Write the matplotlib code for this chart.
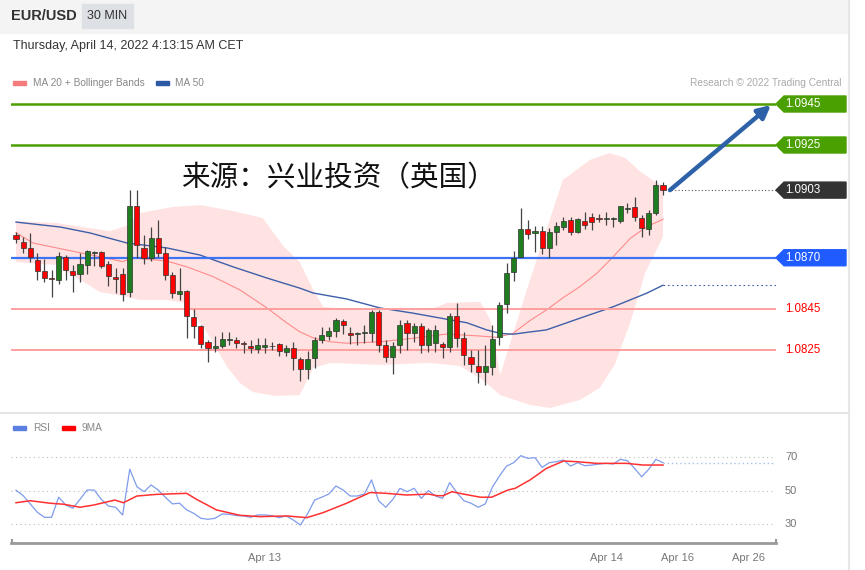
import matplotlib.pyplot as plt
from matplotlib.patches import Polygon, Rectangle
import numpy as np

plt.rcParams['font.family'] = ['Liberation Sans', 'DejaVu Sans']

# ---- candles (30 min EUR/USD) ----
opens = [1.08811, 1.08778, 1.08749, 1.08689, 1.08635, 1.08601, 1.08593, 1.08705, 1.08635, 1.08619,
         1.08665, 1.08725, 1.08727, 1.08670, 1.08606, 1.08621, 1.08531, 1.08951, 1.08749, 1.08700,
         1.08798, 1.08723, 1.08616, 1.08522, 1.08538, 1.08412, 1.08369, 1.08288, 1.08258, 1.08271,
         1.08297, 1.08300, 1.08284, 1.08270, 1.08256, 1.08266, 1.08270, 1.08279, 1.08239, 1.08258,
         1.08206, 1.08156, 1.08209, 1.08299, 1.08320, 1.08343, 1.08393, 1.08334, 1.08327, 1.08331,
         1.08334, 1.08437, 1.08274, 1.08217, 1.08274, 1.08380, 1.08331, 1.08367, 1.08274, 1.08283,
         1.08279, 1.08266, 1.08416, 1.08307, 1.08217, 1.08172, 1.08144, 1.08167, 1.08315, 1.08474,
         1.08632, 1.08705, 1.08839, 1.08819, 1.08830, 1.08746, 1.08826, 1.08850, 1.08884, 1.08826,
         1.08881, 1.08897, 1.08894, 1.08888, 1.08889, 1.08881, 1.08936, 1.08946, 1.08892, 1.08839,
         1.08917, 1.09055]
highs = [1.08827, 1.08803, 1.08821, 1.08723, 1.08694, 1.08640, 1.08730, 1.08713, 1.08665, 1.08722,
         1.08738, 1.08734, 1.08734, 1.08684, 1.08651, 1.08649, 1.09030, 1.09030, 1.08811, 1.08851,
         1.08884, 1.08754, 1.08629, 1.08649, 1.08543, 1.08449, 1.08372, 1.08299, 1.08318, 1.08339,
         1.08339, 1.08315, 1.08295, 1.08299, 1.08310, 1.08310, 1.08290, 1.08286, 1.08274, 1.08290,
         1.08217, 1.08247, 1.08315, 1.08364, 1.08364, 1.08405, 1.08400, 1.08364, 1.08339, 1.08372,
         1.08445, 1.08445, 1.08299, 1.08290, 1.08396, 1.08396, 1.08380, 1.08380, 1.08356, 1.08372,
         1.08290, 1.08429, 1.08478, 1.08339, 1.08250, 1.08250, 1.08274, 1.08372, 1.08486, 1.08673,
         1.08734, 1.08941, 1.08884, 1.08855, 1.08855, 1.08847, 1.08874, 1.08900, 1.08900, 1.08892,
         1.08925, 1.08917, 1.08913, 1.08925, 1.08900, 1.08952, 1.08966, 1.08998, 1.08909, 1.08933,
         1.09079, 1.09071]
lows = [1.08770, 1.08722, 1.08681, 1.08591, 1.08580, 1.08510, 1.08570, 1.08591, 1.08531, 1.08580,
        1.08619, 1.08660, 1.08649, 1.08564, 1.08530, 1.08490, 1.08510, 1.08697, 1.08668, 1.08684,
        1.08705, 1.08591, 1.08505, 1.08494, 1.08310, 1.08310, 1.08258, 1.08193, 1.08242, 1.08258,
        1.08274, 1.08258, 1.08234, 1.08237, 1.08237, 1.08237, 1.08250, 1.08221, 1.08221, 1.08152,
        1.08100, 1.08107, 1.08161, 1.08283, 1.08299, 1.08315, 1.08327, 1.08279, 1.08274, 1.08283,
        1.08290, 1.08242, 1.08193, 1.08133, 1.08234, 1.08250, 1.08290, 1.08234, 1.08242, 1.08242,
        1.08209, 1.08242, 1.08266, 1.08177, 1.08144, 1.08090, 1.08079, 1.08128, 1.08274, 1.08429,
        1.08588, 1.08702, 1.08790, 1.08730, 1.08718, 1.08697, 1.08761, 1.08835, 1.08811, 1.08819,
        1.08840, 1.08835, 1.08876, 1.08860, 1.08849, 1.08868, 1.08917, 1.08881, 1.08803, 1.08811,
        1.08909, 1.09006]
closes = [1.08790, 1.08749, 1.08705, 1.08635, 1.08603, 1.08598, 1.08707, 1.08640, 1.08614, 1.08670,
          1.08733, 1.08730, 1.08661, 1.08611, 1.08598, 1.08523, 1.08954, 1.08762, 1.08700, 1.08798,
          1.08725, 1.08616, 1.08527, 1.08538, 1.08416, 1.08369, 1.08278, 1.08258, 1.08270, 1.08305,
          1.08304, 1.08284, 1.08281, 1.08260, 1.08276, 1.08276, 1.08268, 1.08247, 1.08258, 1.08209,
          1.08156, 1.08206, 1.08299, 1.08323, 1.08343, 1.08396, 1.08372, 1.08323, 1.08331, 1.08338,
          1.08437, 1.08274, 1.08217, 1.08271, 1.08372, 1.08331, 1.08367, 1.08274, 1.08348, 1.08348,
          1.08263, 1.08417, 1.08307, 1.08226, 1.08182, 1.08144, 1.08172, 1.08304, 1.08470, 1.08627,
          1.08697, 1.08840, 1.08816, 1.08830, 1.08746, 1.08827, 1.08855, 1.08879, 1.08826, 1.08889,
          1.08860, 1.08873, 1.08891, 1.08895, 1.08890, 1.08952, 1.08944, 1.08897, 1.08844, 1.08917,
          1.09055, 1.09030]

# ---- indicators, read at candle index positions ----
ma50_idx = [0, 6.2, 10.4, 15.6, 21.2, 25.9, 30.5, 35.3, 39.9, 41.8, 46.5, 51.2, 55.8, 60.6,
            63.4, 66.2, 68.1, 69.9, 72.3, 74.6, 79.3, 84, 88.7, 91]
ma50_val = [1.08874, 1.08850, 1.08821, 1.08772, 1.08748, 1.08713, 1.08656, 1.08601, 1.08552,
            1.08528, 1.08499, 1.08455, 1.08430, 1.08400, 1.08383, 1.08348, 1.08331, 1.08327,
            1.08338, 1.08348, 1.08405, 1.08461, 1.08527, 1.08566]

ma20_idx = [0, 2.4, 7.1, 11.8, 15, 16.5, 21.2, 24, 27.7, 31.5, 35.3, 38.1, 39.9, 41.8, 44.2,
            46.5, 51.2, 55.8, 60.6, 65.3, 67.6, 69.9, 72.3, 74.6, 76.9, 79.3, 81.7, 84, 86.4,
            88.7, 91]
ma20_val = [1.08822, 1.08772, 1.08738, 1.08705, 1.08681, 1.08699, 1.08684, 1.08656, 1.08608,
            1.08543, 1.08455, 1.08382, 1.08339, 1.08309, 1.08290, 1.08283, 1.08290, 1.08307,
            1.08328, 1.08318, 1.08312, 1.08331, 1.08394, 1.08445, 1.08504, 1.08559, 1.08624,
            1.08705, 1.08795, 1.08851, 1.08888]

bb_up_idx = [0, 5.6, 13.2, 15.5, 17.4, 22.1, 25.9, 30.5, 34.7, 37.6, 39.9, 41.8, 43.2, 47,
             58.2, 60.6, 65.3, 66.7, 68.1, 72.3, 76.9, 80.7, 83.5, 85.7, 87.8, 89.9, 91]
bb_up_val = [1.08879, 1.08870, 1.08830, 1.08855, 1.08918, 1.08948, 1.08957, 1.08928, 1.08894,
             1.08757, 1.08680, 1.08544, 1.08461, 1.08446, 1.08446, 1.08480, 1.08485, 1.08398,
             1.08129, 1.08593, 1.09079, 1.09177, 1.09211, 1.09187, 1.09120, 1.09070, 1.09050]
bb_lo_idx = [0, 5.6, 11.8, 15.6, 17.4, 21.2, 24, 26.9, 29.7, 31.5, 33.3, 36.4, 39.9, 41.8,
             44.2, 51.2, 58.2, 62.4, 65.3, 68.1, 72.3, 75.1, 79.3, 82.1, 84.2, 86.4, 88.5, 91]
bb_lo_val = [1.08679, 1.08665, 1.08533, 1.08509, 1.08494, 1.08494, 1.08479, 1.08333, 1.08167,
             1.08089, 1.08045, 1.08026, 1.08030, 1.08162, 1.08187, 1.08177, 1.08187, 1.08172,
             1.08113, 1.08030, 1.07982, 1.07967, 1.08006, 1.08065, 1.08177, 1.08384, 1.08627,
             1.08802]

rsi = [50.2, 47, 42, 37, 34, 34, 46, 41.3, 39.4, 44.7, 50.3, 50.3, 44.7, 40.7, 40, 35.4, 62.7,
       52.3, 49.3, 53.3, 50.3, 46, 42, 42.4, 38.4, 36.4, 33.4, 32.8, 33.4, 36, 35.8, 35, 34.8,
       34, 35.4, 35.4, 35, 33.8, 34.8, 32.4, 29.4, 36, 44.3, 46, 47.9, 52.7, 50.3, 46.7, 46.7,
       47.9, 56.3, 43.9, 40, 44.7, 51.3, 49.3, 51.3, 45.3, 49.9, 46.7, 45.3, 54.7, 48.7, 43.9,
       42.4, 40, 42, 52, 58.7, 64.6, 66.6, 70.8, 69.2, 69.6, 63.8, 66.6, 67.2, 68.2, 64.6, 66.6,
       64.8, 65.2, 65.8, 66.2, 65.8, 68.6, 67.8, 63.2, 58.2, 62.7, 68.6, 66.6]
ma9_idx = [0, 2, 4.8, 6.7, 9, 10.9, 13.9, 15.1, 17, 19.8, 24, 25.4, 28.2, 31.5, 34.3, 38.1,
           40.9, 43.2, 46.5, 49.8, 52.1, 55, 58, 59.2, 60.1, 61.3, 62.9, 65.3, 66.9, 69.2, 70.2,
           72.3, 74.6, 77, 78.9, 81.7, 85.9, 88.2, 91]
ma9_val = [42.7, 43.9, 42.4, 41.8, 40, 41.3, 44.3, 42.7, 46.7, 47.7, 48.3, 44.7, 38.4, 35.2,
           34.4, 34.8, 33.8, 36.8, 42.4, 48.8, 48.3, 47.3, 47.9, 46.9, 46.9, 49.3, 47.9, 46,
           46, 50.3, 51.3, 56.3, 63.2, 67.6, 67.2, 66.2, 66.2, 65.2, 65.2]

levels_green = [1.0945, 1.0925]
level_blue = 1.0870
levels_red = [1.0845, 1.0825]
last_price = 1.0903
rsi_levels = [70, 50, 30]
xtick_pos = [35, 83, 93, 103]
xtick_lab = ['Apr 13', 'Apr 14', 'Apr 16', 'Apr 26']

W, H = 865, 570
fig = plt.figure(figsize=(W / 100, H / 100), dpi=100)


def fx(x):
    return x / W


def fy(y):
    return 1 - y / H


def idx(xp):  # pixel x -> candle index (styling only)
    return (xp - 16) / 7.11


PPX = 1 / 20500  # price per pixel

# background frame
fig.patches.append(Rectangle((0, fy(33)), fx(849), 33 / H, transform=fig.transFigure,
                             color='#f4f4f4', zorder=0))
fig.patches.append(Rectangle((fx(82), fy(28)), fx(51), 24 / H, transform=fig.transFigure,
                             color='#dde0e4', zorder=1))
fig.lines.append(plt.Line2D([fx(849), fx(849)], [0, 1], transform=fig.transFigure,
                            color='#e6e6e6', lw=1.5))
fig.lines.append(plt.Line2D([0, fx(849)], [fy(413), fy(413)], transform=fig.transFigure,
                            color='#e6e6e6', lw=1.5))

fig.text(fx(11), fy(16), 'EUR/USD', fontsize=10.5, fontweight='bold', color='#333333', va='center')
fig.text(fx(107.5), fy(16), '30 MIN', fontsize=9, color='#333333', va='center', ha='center')
fig.text(fx(13), fy(46), 'Thursday, April 14, 2022 4:13:15 AM CET', fontsize=9,
         color='#333333', va='center')

# legends
fig.patches.append(Rectangle((fx(13), fy(85)), fx(13), 4 / H, transform=fig.transFigure,
                             color='#f47c7c'))
fig.text(fx(33), fy(83), 'MA 20 + Bollinger Bands', fontsize=7.3, color='#888888', va='center')
fig.patches.append(Rectangle((fx(156), fy(85)), fx(13), 4 / H, transform=fig.transFigure,
                             color='#2e5aa5'))
fig.text(fx(175), fy(83), 'MA 50', fontsize=7.3, color='#888888', va='center')
fig.text(fx(841), fy(83), 'Research © 2022 Trading Central', fontsize=7.3, color='#aaaaaa',
         va='center', ha='right')

fig.patches.append(Rectangle((fx(13), fy(430)), fx(13), 4 / H, transform=fig.transFigure,
                             color='#5b7fe0'))
fig.text(fx(33), fy(428), 'RSI', fontsize=7.3, color='#888888', va='center')
fig.patches.append(Rectangle((fx(62), fy(430)), fx(13), 4 / H, transform=fig.transFigure,
                             color='#ff0000'))
fig.text(fx(82), fy(428), '9MA', fontsize=7.3, color='#888888', va='center')

# ---- main price panel ----
ax = fig.add_axes([fx(11), fy(410), fx(776) - fx(11), (410 - 90) / H])
ax.set_xlim(idx(11), idx(776))
ax.set_ylim(1.0945 - 306 * PPX, 1.0945 + 14 * PPX)
ax.axis('off')

poly_x = np.concatenate([bb_up_idx, bb_lo_idx[::-1]])
poly_y = np.concatenate([bb_up_val, bb_lo_val[::-1]])
ax.fill(poly_x, poly_y, color='#ffe3e3', lw=0, zorder=1)
ax.plot(ma20_idx, ma20_val, color='#ff8a8a', lw=0.8, zorder=2)
ax.plot(ma50_idx, ma50_val, color='#3d5fa8', lw=1.0, zorder=2)
ax.plot([ma50_idx[-1], idx(776)], [ma50_val[-1]] * 2, color='#3d5fa8', lw=0.8, ls=(0, (1.5, 2.5)))

xs = np.arange(len(opens))
o = np.array(opens)
c = np.array(closes)
up = c >= o
ax.vlines(xs, lows, highs, color='#444444', lw=0.9, zorder=3)
body = np.maximum(np.abs(c - o), 0.000025)
ax.bar(xs, body, bottom=np.minimum(o, c), width=0.72,
       color=np.where(up, '#1e7d1e', '#ff0000'), edgecolor='#333333', linewidth=0.5, zorder=4)

for lv in levels_green:
    ax.axhline(lv, color='#4c9f00', lw=1.8, zorder=2)
ax.axhline(level_blue, color='#3d73f5', lw=1.6, zorder=2)
for lv in levels_red:
    ax.axhline(lv, color='#ff9f9f', lw=1.4, zorder=2)
ax.plot([idx(668), idx(776)], [last_price] * 2, color='#555555', lw=0.8, ls=(0, (1, 2)))


def tag(price, color):
    h = 8 * PPX
    pts = [(idx(776), price), (idx(784), price + h), (idx(846), price + h),
           (idx(846), price - h), (idx(784), price - h)]
    ax.add_patch(Polygon(pts, closed=True, color=color, clip_on=False, zorder=5))
    ax.text(idx(785), price, f'{price:.4f}', color='white', fontsize=8.3, va='center',
            clip_on=False, zorder=6)


for lv in levels_green:
    tag(lv, '#4aa000')
tag(last_price, '#333333')
tag(level_blue, '#1f5bff')
for lv in levels_red:
    ax.text(idx(785), lv, f'{lv:.4f}', color='#ff0000', fontsize=8.3, va='center', clip_on=False)

ax.annotate('', xy=(idx(771), 1.0945 - 1 * PPX), xytext=(idx(670), last_price),
            arrowprops=dict(arrowstyle='-|>', color='#2e62a8', lw=3.2, mutation_scale=19,
                            shrinkA=0, shrinkB=0), zorder=6)

fig.text(fx(181), fy(178), '来源：兴业投资（英国）', fontsize=20.6, color='#111111', va='center',
         family=['Noto Sans CJK SC', 'DejaVu Sans'])

# ---- RSI panel ----
ax2 = fig.add_axes([fx(11), fy(543), fx(776) - fx(11), (543 - 440) / H])
ax2.set_xlim(idx(11), idx(776))
ax2.set_ylim(70 - 86 * 0.597, 70 + 17 * 0.597)
for s in ['top', 'right', 'left']:
    ax2.spines[s].set_visible(False)
ax2.spines['bottom'].set_color('#999999')
ax2.spines['bottom'].set_linewidth(2)
ax2.set_yticks([])
ax2.set_xticks(xtick_pos)
ax2.set_xticklabels(xtick_lab, fontsize=8, color='#777777')
ax2.tick_params(axis='x', length=0, pad=7)
y0 = ax2.get_ylim()[0]
for xe in [idx(11.5), idx(775.5)]:
    ax2.plot([xe, xe], [y0, y0 + 3 * 0.597], color='#999999', lw=1.5, clip_on=False)

for lv in rsi_levels:
    ax2.axhline(lv, color='#bbbbbb', lw=0.8, ls=(0, (1, 3)))
    ax2.text(idx(785), lv, str(lv), color='#777777', fontsize=8, va='center', clip_on=False)
ax2.plot(xs, rsi, color='#7f9cec', lw=0.9)
ax2.plot(ma9_idx, ma9_val, color='#ff3030', lw=1.1)
ax2.plot([xs[-1], idx(776)], [rsi[-1]] * 2, color='#a9bdf2', lw=1.0, ls=(0, (1, 2)))

fig.savefig('out.png', dpi=100)
